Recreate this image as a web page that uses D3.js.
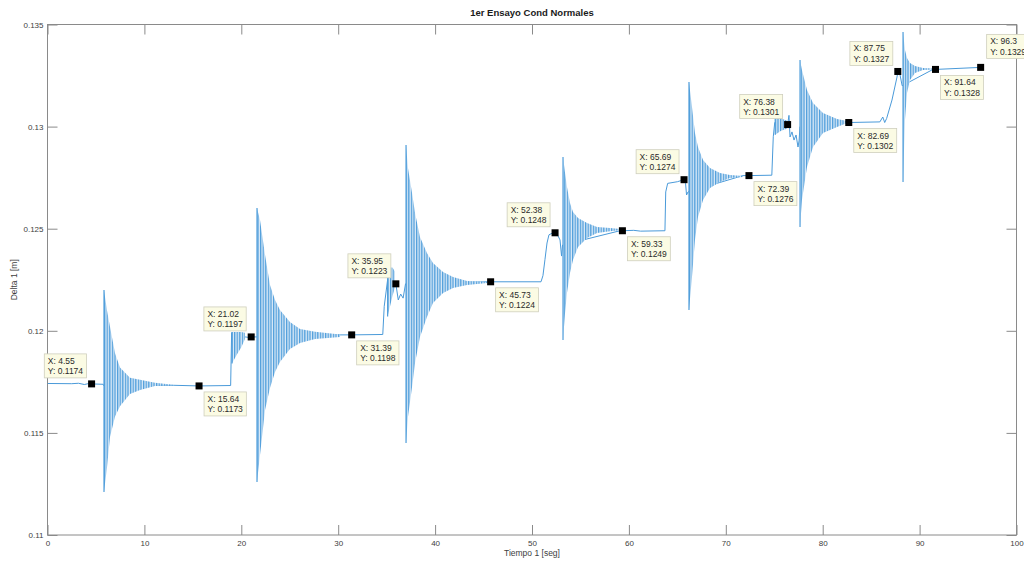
<!DOCTYPE html>
<html>
<head>
<meta charset="utf-8">
<script src="https://cdn.jsdelivr.net/npm/d3@7"></script>
<style>
  body { margin: 0; background: #fff; }
  text { font-family: "Liberation Sans", Arial, Helvetica, sans-serif; }
</style>
</head>
<body>
<svg id="chart" width="1024" height="563"></svg>
<script>
// ---- axis ticks ----
const xTicks = [0, 10, 20, 30, 40, 50, 60, 70, 80, 90, 100];
const yTicks = [0.11, 0.115, 0.12, 0.125, 0.13, 0.135];
const yTickLabels = ["0.11", "0.115", "0.12", "0.125", "0.13", "0.135"];

// ---- settled trace of Delta 1 (time in s, value in m) ----
const traceT = [0, 2.5, 3.2, 3.8, 4.2, 4.55, 5.75, 5.83, 13.15, 15.64, 18.9, 19.0, 20.4, 20.7, 21.02, 21.55,
  30.2, 31.39, 34.6, 34.75, 35.1, 35.95, 36.2, 36.45, 36.7, 36.95, 45.36, 45.73, 50.93, 51.13, 51.34, 51.55,
  51.75, 52.17, 52.38, 52.68, 52.89, 53.05, 53.15, 59.08, 59.33, 60.5, 61.2, 63.72, 63.8, 64.0, 65.0, 65.69,
  65.85, 65.95, 66.1, 71.77, 72.39, 74.75, 74.9, 75.05, 76.38, 76.52, 76.63, 76.83, 77.04, 77.25, 77.45,
  77.56, 77.66, 82.51, 82.69, 85.9, 86.2, 86.4, 86.6, 87.15, 87.67, 87.75, 87.95, 88.2, 91.38, 91.64, 96.3, 96.6];
const traceV = [0.11742, 0.11741, 0.11743, 0.11737, 0.11741, 0.1174, 0.11738, 0.1173, 0.11733, 0.1173, 0.11732, 0.1199, 0.1197, 0.11968, 0.1197, 0.1197,
  0.1198, 0.1198, 0.11982, 0.1212, 0.1225, 0.1223, 0.12151, 0.1218, 0.1216, 0.1223, 0.1224, 0.1224, 0.1224, 0.1227, 0.1235, 0.1243,
  0.1247, 0.1248, 0.1248, 0.12465, 0.12445, 0.12366, 0.1242, 0.1249, 0.1249, 0.12492, 0.12488, 0.1249, 0.1268, 0.12722, 0.1273, 0.1274,
  0.1272, 0.12665, 0.1268, 0.1276, 0.1276, 0.12762, 0.1295, 0.1302, 0.1301, 0.13055, 0.12949, 0.12974, 0.12934, 0.12959, 0.129,
  0.1293, 0.13, 0.1302, 0.1302, 0.13023, 0.13047, 0.1302, 0.1304, 0.1313, 0.13243, 0.1327, 0.1326, 0.132, 0.1328, 0.1328, 0.1329, 0.1329];

// ---- oscillation envelopes after each load step: time, upper peak, lower peak ----
const burst1T  = [5.83, 6.14, 6.45, 6.97, 7.48, 8.51, 9.55, 11.09, 13.15];
const burst1Hi = [0.1220, 0.1210, 0.1202, 0.1189, 0.1182, 0.1177, 0.1176, 0.11745, 0.11735];
const burst1Lo = [0.1121, 0.1133, 0.1148, 0.1158, 0.1163, 0.1169, 0.1171, 0.1173, 0.11733];

const band2T  = [19.04, 19.5, 20.0, 20.38];
const band2Hi = [0.11994, 0.11994, 0.11994, 0.1199];
const band2Lo = [0.1184, 0.1188, 0.1192, 0.1196];

const burst2T  = [21.62, 21.93, 22.45, 22.96, 23.48, 23.99, 25.02, 26.06, 27.61, 30.19];
const burst2Hi = [0.12601, 0.12543, 0.12371, 0.12224, 0.12151, 0.12102, 0.12043, 0.12009, 0.11995, 0.11982];
const burst2Lo = [0.1126, 0.11392, 0.11612, 0.1172, 0.11798, 0.11847, 0.11911, 0.1194, 0.1196, 0.1197];

const band3T  = [35.1, 35.35, 35.6, 35.85];
const band3Hi = [0.1230, 0.1231, 0.1231, 0.1229];
const band3Lo = [0.1207, 0.1212, 0.1217, 0.1221];

const burst3T  = [37.0, 37.2, 37.62, 37.93, 38.44, 39.16, 39.78, 40.82, 41.85, 43.29, 45.36];
const burst3Hi = [0.1291, 0.12797, 0.12675, 0.12577, 0.12459, 0.12381, 0.12332, 0.12288, 0.12263, 0.12244, 0.12239];
const burst3Lo = [0.11451, 0.11578, 0.11725, 0.11842, 0.1197, 0.12068, 0.12136, 0.12185, 0.1221, 0.12224, 0.12234];

const burst4T  = [53.2, 53.41, 53.61, 53.92, 54.23, 54.75, 55.68, 56.71, 58.05, 59.08];
const burst4Hi = [0.12851, 0.12773, 0.12704, 0.12626, 0.12582, 0.12552, 0.12528, 0.12508, 0.12503, 0.12498];
const burst4Lo = [0.11955, 0.12087, 0.12185, 0.12283, 0.12347, 0.1241, 0.12454, 0.12479, 0.12488, 0.12493];

const burst5T  = [66.2, 66.51, 66.82, 67.13, 67.65, 68.37, 69.4, 70.43, 71.77];
const burst5Hi = [0.13218, 0.13096, 0.12969, 0.129, 0.12836, 0.12797, 0.12773, 0.12763, 0.12758];
const burst5Lo = [0.12102, 0.12263, 0.12445, 0.12557, 0.12641, 0.12699, 0.12729, 0.12748, 0.12753];

const band6T  = [75.1, 75.7, 76.3];
const band6Hi = [0.1304, 0.1304, 0.1303];
const band6Lo = [0.1296, 0.1298, 0.1299];

const burst6T  = [77.66, 77.86, 78.38, 79.0, 80.03, 81.48, 82.51];
const burst6Hi = [0.13326, 0.13277, 0.13179, 0.13116, 0.13067, 0.13037, 0.13027];
const burst6Lo = [0.12508, 0.12641, 0.12802, 0.129, 0.12969, 0.12998, 0.13018];

const burst7T  = [88.29, 88.49, 88.7, 89.01, 89.53, 90.35, 91.38];
const burst7Hi = [0.13463, 0.13375, 0.13336, 0.13311, 0.13297, 0.13287, 0.13285];
const burst7Lo = [0.12729, 0.13032, 0.13165, 0.13228, 0.13262, 0.13277, 0.1328];

// ---- data tips ----
const tipX = [4.55, 15.64, 21.02, 31.39, 35.95, 45.73, 52.38, 59.33, 65.69, 72.39, 76.38, 82.69, 87.75, 91.64, 96.3];
const tipY = [0.1174, 0.1173, 0.1197, 0.1198, 0.1223, 0.1224, 0.1248, 0.1249, 0.1274, 0.1276, 0.1301, 0.1302, 0.1327, 0.1328, 0.1329];
const tipPlacement = ["nw", "se", "nw", "se", "nw", "se", "nw", "se", "nw", "se", "nw", "se", "nw", "se", "ne"];

// ---- layout ----
const W = 1024, H = 563;
const plot = { left: 47.5, right: 1016.5, top: 24.5, bottom: 535 };
const lineBlue = "#4a9ad9";
const axisGray = "#8a8a8a";
const textGray = "#404040";

const svg = d3.select("#chart");
const x = d3.scaleLinear().domain([0, 100]).range([plot.left, plot.right]);
const y = d3.scaleLinear().domain([0.11, 0.135]).range([plot.bottom, plot.top]);

// striped fill that reads as a dense oscillating trace
const defs = svg.append("defs");
const pat = defs.append("pattern")
  .attr("id", "osc").attr("patternUnits", "userSpaceOnUse")
  .attr("width", 2.6).attr("height", 40);
pat.append("rect").attr("width", 2.6).attr("height", 40).attr("fill", "#dbeaf7");
pat.append("rect").attr("width", 1.3).attr("height", 40).attr("fill", "#509edb");

defs.append("clipPath").attr("id", "plotClip")
  .append("rect").attr("x", plot.left).attr("y", plot.top)
  .attr("width", plot.right - plot.left).attr("height", plot.bottom - plot.top);

svg.append("rect").attr("width", W).attr("height", H).attr("fill", "#fff");

// axes box
svg.append("rect")
  .attr("x", plot.left).attr("y", plot.top)
  .attr("width", plot.right - plot.left).attr("height", plot.bottom - plot.top)
  .attr("fill", "none").attr("stroke", axisGray).attr("stroke-width", 1);

function styleAxis(g) {
  g.select(".domain").remove();
  g.selectAll(".tick line").attr("stroke", axisGray);
  g.selectAll(".tick text").attr("fill", textGray).attr("font-size", 8);
}

svg.append("g").attr("transform", `translate(0,${plot.bottom})`)
  .call(d3.axisBottom(x).tickValues(xTicks).tickSizeInner(-10).tickSizeOuter(0).tickPadding(5).tickFormat(d3.format("d")))
  .call(styleAxis);
svg.append("g").attr("transform", `translate(0,${plot.top})`)
  .call(d3.axisTop(x).tickValues(xTicks).tickSizeInner(-10).tickSizeOuter(0).tickFormat(""))
  .call(styleAxis);
svg.append("g").attr("transform", `translate(${plot.left},0)`)
  .call(d3.axisLeft(y).tickValues(yTicks).tickSizeInner(-10).tickSizeOuter(0).tickPadding(4)
    .tickFormat((d, i) => yTickLabels[i]))
  .call(styleAxis);
svg.append("g").attr("transform", `translate(${plot.right},0)`)
  .call(d3.axisRight(y).tickValues(yTicks).tickSizeInner(-10).tickSizeOuter(0).tickFormat(""))
  .call(styleAxis);

// titles
svg.append("text").attr("x", (plot.left + plot.right) / 2).attr("y", 16)
  .attr("text-anchor", "middle").attr("font-size", 9.5).attr("font-weight", "bold").attr("fill", "#1a1a1a")
  .text("1er Ensayo Cond Normales");
svg.append("text").attr("x", (plot.left + plot.right) / 2).attr("y", 556)
  .attr("text-anchor", "middle").attr("font-size", 8.5).attr("fill", textGray)
  .text("Tiempo 1 [seg]");
svg.append("text")
  .attr("transform", `translate(17,${(plot.top + plot.bottom) / 2}) rotate(-90)`)
  .attr("text-anchor", "middle").attr("font-size", 8.5).attr("fill", textGray)
  .text("Delta 1 [m]");

// signal
const gSig = svg.append("g").attr("clip-path", "url(#plotClip)");

const bursts = [
  [burst1T, burst1Hi, burst1Lo], [band2T, band2Hi, band2Lo], [burst2T, burst2Hi, burst2Lo],
  [band3T, band3Hi, band3Lo], [burst3T, burst3Hi, burst3Lo], [burst4T, burst4Hi, burst4Lo],
  [burst5T, burst5Hi, burst5Lo], [band6T, band6Hi, band6Lo], [burst6T, burst6Hi, burst6Lo],
  [burst7T, burst7Hi, burst7Lo]
];

const area = d3.area()
  .x(d => x(d[0])).y1(d => y(d[1])).y0(d => y(d[2]));

gSig.append("path")
  .datum(d3.zip(traceT, traceV))
  .attr("fill", "none").attr("stroke", lineBlue).attr("stroke-width", 1)
  .attr("d", d3.line().x(d => x(d[0])).y(d => y(d[1])));

gSig.selectAll("path.burst")
  .data(bursts.map(b => d3.zip(b[0], b[1], b[2])))
  .join("path").attr("class", "burst")
  .attr("fill", "url(#osc)")
  .attr("d", area);

// first swing of each burst as a full stroke
gSig.selectAll("line.swing")
  .data(bursts.map(b => [b[0][0], b[1][0], b[2][0]]))
  .join("line").attr("class", "swing")
  .attr("x1", d => x(d[0])).attr("x2", d => x(d[0]))
  .attr("y1", d => y(d[1])).attr("y2", d => y(d[2]))
  .attr("stroke", "#509edb").attr("stroke-width", 1.2);

// data tips
const tips = svg.append("g");
tipX.forEach((tx, i) => {
  const px = x(tx), py = y(tipY[i]);
  const g = tips.append("g");
  const box = g.append("rect").attr("fill", "#fbfbe4").attr("stroke", "#cfcfbd").attr("stroke-width", 0.8);
  const l1 = g.append("text").attr("font-size", 8.5).attr("fill", "#2a2a2a").text("X: " + String(tx));
  const l2 = g.append("text").attr("font-size", 8.5).attr("fill", "#2a2a2a").text("Y: " + String(tipY[i]));
  const w = Math.max(l1.node().getComputedTextLength(), l2.node().getComputedTextLength()) + 7;
  const h = 24;
  let bx, by;
  const side = tipPlacement[i];
  if (side === "nw") { bx = px - 5 - w; by = py - 6 - h; }
  else if (side === "se") { bx = px + 5; by = py + 6; }
  else { bx = px + 6; by = py - 9 - h; }
  box.attr("x", bx).attr("y", by).attr("width", w).attr("height", h);
  l1.attr("x", bx + 3.5).attr("y", by + 10);
  l2.attr("x", bx + 3.5).attr("y", by + 20.5);
  tips.append("rect").attr("x", px - 3.5).attr("y", py - 3.5).attr("width", 7).attr("height", 7).attr("fill", "#000");
});
</script>
</body>
</html>
